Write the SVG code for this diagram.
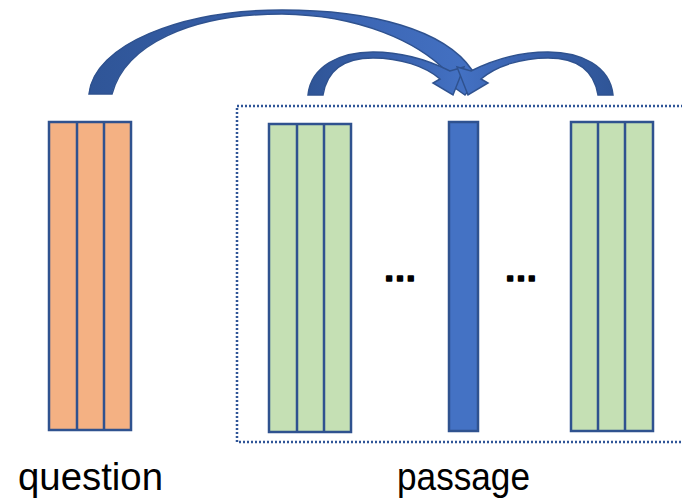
<svg xmlns="http://www.w3.org/2000/svg" width="682" height="499" viewBox="0 0 682 499">
<style>
.cell{stroke:#2f528f;stroke-width:2.5}
.q{fill:#f4b183}
.p{fill:#c5e0b4}
.b{fill:#4472c4}
.div{stroke:#2f528f;stroke-width:2.5}
.arr{stroke:#2f528f;stroke-width:1.5;stroke-linejoin:miter}
.lbl{font-family:"Liberation Sans","Open Sans",sans-serif;font-size:38px;fill:#000}
.dots{font-family:"Liberation Sans",sans-serif;font-size:34px;font-weight:bold;fill:#000;stroke:#000;stroke-width:1.6;stroke-linejoin:round;text-anchor:middle}
</style>
<defs>
<linearGradient id="g" x1="0" y1="0" x2="1" y2="0">
<stop offset="0" stop-color="#2f5597"/>
<stop offset="0.6" stop-color="#3a63b0"/>
<stop offset="1" stop-color="#4472c4"/>
</linearGradient>
</defs>
<g id="passage-box">
<rect x="237" y="106" width="460" height="336" fill="none" stroke="#2f5597" stroke-width="2.5" stroke-dasharray="2 2"/>
</g>
<g id="question-node">
<rect class="cell q" x="49" y="122" width="82" height="308"/>
<line class="div" x1="77" y1="122" x2="77" y2="430"/>
<line class="div" x1="104" y1="122" x2="104" y2="430"/>
</g>
<g id="passage-first">
<rect class="cell p" x="269" y="124" width="82" height="308"/>
<line class="div" x1="297" y1="124" x2="297" y2="432"/>
<line class="div" x1="324" y1="124" x2="324" y2="432"/>
</g>
<g id="ellipsis-1"><text class="dots" x="400" y="281">…</text></g>
<g id="passage-word">
<rect class="cell b" x="449" y="122" width="29" height="309"/>
</g>
<g id="ellipsis-2"><text class="dots" x="521" y="281">…</text></g>
<g id="passage-last">
<rect class="cell p" x="571" y="122" width="82" height="309"/>
<line class="div" x1="598" y1="122" x2="598" y2="431"/>
<line class="div" x1="625" y1="122" x2="625" y2="431"/>
</g>
<g id="connectors">
<path class="arr" fill="url(#g)" d="M 89,94 C 94,45 180,10 282,10 C 372,10 445,30 472,70 L 482,74 L 465,95 L 438,76 L 447,72 C 418,42 360,15 282,14 C 190,14 125,45 112,94 Z"/>
<path class="arr" fill="url(#g)" d="M 308,95 C 311,66 340,52 373,52 C 405,52 432,62 450,71 L 464,67 L 453,95 L 433,83 L 440,79 C 425,66 400,58 373,58 C 345,58 327,70 323,95 Z"/>
<path class="arr" fill="url(#g)" transform="translate(921,0) scale(-1,1)" d="M 308,95 C 311,66 340,52 373,52 C 405,52 432,62 450,71 L 464,67 L 453,95 L 433,83 L 440,79 C 425,66 400,58 373,58 C 345,58 327,70 323,95 Z"/>
</g>
<g id="labels">
<text class="lbl" x="18" y="490" textLength="145" lengthAdjust="spacingAndGlyphs">question</text>
<text class="lbl" x="397" y="490" textLength="133" lengthAdjust="spacingAndGlyphs">passage</text>
</g>
</svg>
